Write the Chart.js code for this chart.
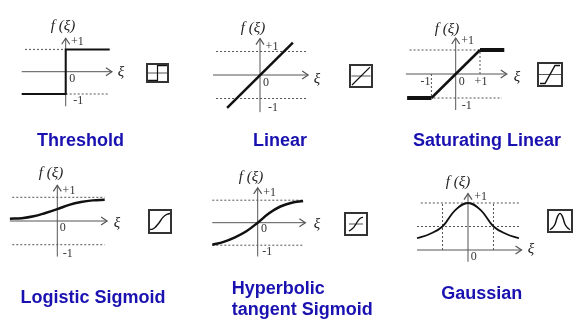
<!DOCTYPE html>
<html>
<head>
<meta charset="utf-8">
<title>Activation functions</title>
<script src="https://cdn.jsdelivr.net/npm/chart.js@4/dist/chart.umd.min.js"></script>
<style>
    html, body { margin: 0; padding: 0; background: #fff; }
    #page { position: relative; width: 579px; height: 324px; overflow: hidden; }
    canvas { position: absolute; }
    canvas.icon { outline: 2px solid #333; outline-offset: -2px; }
</style>
</head>
<body>
<div id="page"></div>
<script>
// values
const thresholdX = [-2, 0, 0, 2];
const thresholdY = [-1, -1, 1, 1];
const linearX = [-1.4, 1.4];
const linearY = [-1.4, 1.38];
const saturatingX = [-2, -1, 1, 2];
const saturatingY = [-1, -1, 1, 1];
const logisticX = [-2, -1.5, -1, -0.5, 0, 0.5, 1, 1.5, 2];
const logisticY = [0.1, 0.12, 0.2, 0.34, 0.5, 0.68, 0.8, 0.87, 0.9];
const tanhX = [-2, -1.5, -1, -0.5, 0, 0.5, 1, 1.5, 2];
const tanhY = [-0.98, -0.85, -0.65, -0.38, 0, 0.42, 0.72, 0.89, 0.96];
const gaussianX = [-2, -1.5, -1, -0.5, 0, 0.5, 1, 1.5, 2];
const gaussianY = [0.25, 0.34, 0.5, 0.85, 1, 0.85, 0.5, 0.34, 0.25];

const titles = ['Threshold', 'Linear', 'Saturating Linear', 'Logistic Sigmoid', 'Hyperbolic', 'tangent Sigmoid', 'Gaussian'];
const yName = 'f (ξ)';
const xName = 'ξ';

const INK = '#111';
const AXIS = '#555';
const TITLE_COLOR = '#1a12b0';
const TICK_FONT = '12px "Liberation Serif"';
const NAME_FONT = 'italic 15px "Liberation Serif"';
const TITLE_FONT = 'bold 18px "Liberation Sans"';

const toPoints = (xs, ys) => xs.map((x, i) => ({ x: x, y: ys[i] }));

// one canvas per panel, the scale limits put the origin where the picture has it
const panels = [
    {
        box: [0, 0, 190, 160], origin: [65.7, 71.7], unit: [22, 22.3],
        xs: thresholdX, ys: thresholdY, width: 2,
        xAxis: [-2, 2.1], yAxis: [-1.55, 1.5],
        guides: [[-1.85, 1, 0, 1], [0, -1, 1.95, -1]],
        ticks: [['+1', 0, 1, 11.6, -8], ['0', 0, 0, 6.5, 7.5], ['-1', 0, -1, 12.5, 7]],
        yNameAt: [63, 26], xNameAt: [121, 72],
        titleLines: [[titles[0], 80.5, 140.7, 'center']]
    },
    {
        box: [190, 0, 190, 160], origin: [260, 75], unit: [23.5, 23.5],
        xs: linearX, ys: linearY, width: 2.5,
        xAxis: [-2, 2.05], yAxis: [-1.58, 1.55],
        guides: [[-1.87, 1, 2, 1], [-1.87, -1, 2, -1]],
        ticks: [['+1', 0, 1, 12, -4.5], ['0', 0, 0, 6, 7.7], ['-1', 0, -1, 13, 9.7]],
        yNameAt: [253, 28], xNameAt: [317, 79],
        titleLines: [[titles[1], 280, 141, 'center']]
    },
    {
        box: [380, 0, 199, 160], origin: [455.7, 74], unit: [24.3, 24],
        xs: saturatingX, ys: saturatingY, width: 2.5, thickEnds: 4,
        xAxis: [-2.05, 2.1], yAxis: [-1.5, 1.5],
        guides: [[-1.9, 1, 1.9, 1], [-1.9, -1, 1.9, -1], [1, 0, 1, 1], [-1, 0, -1, -1]],
        ticks: [['+1', 0, 1, 12, -9], ['-1', 0, -1, 11, 7.7], ['0', 0, 0, 6, 7.7], ['+1', 1, 0, 1, 7.7], ['-1', -1, 0, -6, 7.7]],
        yNameAt: [447, 29], xNameAt: [517, 77],
        titleLines: [[titles[2], 487, 141, 'center']]
    },
    {
        box: [0, 160, 190, 164], origin: [57.3, 221], unit: [23.7, 23.7],
        xs: logisticX, ys: logisticY, width: 2.5, smooth: true,
        xAxis: [-2, 2.1], yAxis: [-1.5, 1.5],
        guides: [[-1.9, 1, 2, 1], [-1.9, -1, 2, -1]],
        ticks: [['+1', 0, 1, 11.7, -6], ['0', 0, 0, 5.4, 7.3], ['-1', 0, -1, 10.4, 9]],
        yNameAt: [51, 173], xNameAt: [117, 223],
        titleLines: [[titles[3], 93, 297.7, 'center']]
    },
    {
        box: [190, 160, 190, 164], origin: [257.7, 222.7], unit: [22.7, 22.5],
        xs: tanhX, ys: tanhY, width: 2.5, smooth: true,
        xAxis: [-2, 2.1], yAxis: [-1.5, 1.55],
        guides: [[-2, 1, 2, 1], [-2, -1, 2, -1]],
        ticks: [['+1', 0, 1, 12, -7], ['0', 0, 0, 6.3, 6.6], ['-1', 0, -1, 9.6, 7]],
        yNameAt: [251, 177], xNameAt: [317, 224],
        titleLines: [[titles[4], 231.7, 289, 'left'], [titles[5], 231.7, 309.7, 'left']]
    },
    {
        box: [380, 160, 199, 164], origin: [468, 250], unit: [25.5, 47],
        xs: gaussianX, ys: gaussianY, width: 1.8, smooth: true,
        xAxis: [-2, 2.1], yAxis: [-0.25, 1.2],
        guides: [[-1.85, 1, 2, 1], [-2, 0.5, 2.05, 0.5], [-1, 0, -1, 1], [1, 0, 1, 1]],
        ticks: [['+1', 0, 1, 12.7, -6.5], ['0', 0, 0, 5.7, 7]],
        yNameAt: [458, 182], xNameAt: [531, 249],
        titleLines: [[titles[6], 481.7, 293.7, 'center']]
    }
];

const icons = [
    { box: [146, 63, 23, 20], xs: thresholdX, ys: thresholdY, xRange: [-2.44, 2.44], yRange: [-1.36, 1.36], width: 1.2, midLine: [-2.2, 2.2] },
    { box: [349, 64, 24, 24], xs: linearX, ys: linearY, xRange: [-1.87, 1.87], yRange: [-1.87, 1.87], width: 1.2, midLine: [-1.5, 1.5] },
    { box: [537, 62, 26, 25], xs: saturatingX, ys: saturatingY, xRange: [-2.6, 2.6], yRange: [-1.39, 1.39], width: 1.4, midLine: [-2.2, 2.2] },
    { box: [148, 209, 24, 25], xs: logisticX, ys: logisticY, xRange: [-2.4, 2.4], yRange: [-0.125, 1.125], width: 1.4, smooth: true },
    { box: [344, 212, 24, 24], xs: tanhX, ys: tanhY, xRange: [-3.43, 3.43], yRange: [-1.71, 1.71], width: 1.3, smooth: true, midLine: [-2, 2] },
    { box: [547, 209, 26, 24], xs: gaussianX, ys: gaussianY, xRange: [-2.6, 2.6], yRange: [0.1, 1.2], width: 1.4, smooth: true }
];

function addCanvas(box, className) {
    const canvas = document.createElement('canvas');
    canvas.width = box[2];
    canvas.height = box[3];
    canvas.style.left = box[0] + 'px';
    canvas.style.top = box[1] + 'px';
    if (className) canvas.className = className;
    document.getElementById('page').appendChild(canvas);
    return canvas;
}

function hiddenScales(xRange, yRange) {
    return {
        x: { type: 'linear', display: false, min: xRange[0], max: xRange[1] },
        y: { type: 'linear', display: false, min: yRange[0], max: yRange[1] }
    };
}

function baseOptions(xRange, yRange) {
    return {
        responsive: false,
        animation: false,
        layout: { padding: 0 },
        scales: hiddenScales(xRange, yRange),
        plugins: { legend: { display: false }, tooltip: { enabled: false }, title: { display: false } },
        elements: { point: { radius: 0 } }
    };
}

function curveDataset(item) {
    const dataset = {
        data: toPoints(item.xs, item.ys),
        showLine: true,
        borderColor: INK,
        borderWidth: item.width,
        tension: item.smooth ? 0.4 : 0,
        fill: false
    };
    if (item.thickEnds) {
        // flat ends of the saturating curve are heavier than the ramp
        dataset.segment = {
            borderWidth: ctx => (ctx.p0.parsed.y === ctx.p1.parsed.y ? item.thickEnds : item.width)
        };
    }
    return dataset;
}

function arrowHead(ctx, x, y, dirX, dirY) {
    const size = 6;
    ctx.beginPath();
    ctx.moveTo(x - dirX * size - dirY * 4, y - dirY * size - dirX * 4);
    ctx.lineTo(x, y);
    ctx.lineTo(x - dirX * size + dirY * 4, y - dirY * size + dirX * 4);
    ctx.stroke();
}

function panelDecor(panel) {
    return {
        id: 'panelDecor',
        beforeDatasetsDraw(chart) {
            const ctx = chart.ctx;
            const px = v => chart.scales.x.getPixelForValue(v);
            const py = v => chart.scales.y.getPixelForValue(v);
            ctx.save();
            ctx.strokeStyle = AXIS;
            ctx.lineWidth = 1;
            ctx.beginPath();
            ctx.moveTo(px(panel.xAxis[0]), py(0));
            ctx.lineTo(px(panel.xAxis[1]), py(0));
            ctx.moveTo(px(0), py(panel.yAxis[0]));
            ctx.lineTo(px(0), py(panel.yAxis[1]));
            ctx.stroke();
            ctx.lineWidth = 1.2;
            arrowHead(ctx, px(panel.xAxis[1]), py(0), 1, 0);
            arrowHead(ctx, px(0), py(panel.yAxis[1]), 0, -1);
            ctx.restore();
        },
        afterDatasetsDraw(chart) {
            const ctx = chart.ctx;
            const left = panel.box[0];
            const top = panel.box[1];
            ctx.save();
            ctx.textBaseline = 'middle';
            ctx.textAlign = 'center';
            ctx.fillStyle = '#333';
            ctx.font = TICK_FONT;
            panel.ticks.forEach(t => {
                ctx.fillText(t[0], chart.scales.x.getPixelForValue(t[1]) + t[3], chart.scales.y.getPixelForValue(t[2]) + t[4]);
            });
            ctx.fillStyle = '#222';
            ctx.font = NAME_FONT;
            ctx.fillText(yName, panel.yNameAt[0] - left, panel.yNameAt[1] - top);
            ctx.fillText(xName, panel.xNameAt[0] - left, panel.xNameAt[1] - top);
            ctx.fillStyle = TITLE_COLOR;
            ctx.font = TITLE_FONT;
            panel.titleLines.forEach(line => {
                ctx.textAlign = line[3];
                ctx.fillText(line[0], line[1] - left, line[2] - top);
            });
            ctx.restore();
        }
    };
}

function drawPanel(panel) {
    const box = panel.box;
    const xMin = (box[0] - panel.origin[0]) / panel.unit[0];
    const xMax = (box[0] + box[2] - panel.origin[0]) / panel.unit[0];
    const yMax = (panel.origin[1] - box[1]) / panel.unit[1];
    const yMin = (panel.origin[1] - box[1] - box[3]) / panel.unit[1];

    const guideSets = panel.guides.map(g => ({
        data: [{ x: g[0], y: g[1] }, { x: g[2], y: g[3] }],
        showLine: true,
        borderColor: AXIS,
        borderWidth: 1,
        borderDash: [2, 2],
        fill: false
    }));

    // first dataset is painted last, so the curve goes first to sit on the guides
    new Chart(addCanvas(box), {
        type: 'scatter',
        data: { datasets: [curveDataset(panel)].concat(guideSets) },
        options: baseOptions([xMin, xMax], [yMin, yMax]),
        plugins: [panelDecor(panel)]
    });
}

function drawIcon(icon) {
    const datasets = [curveDataset(icon)];
    if (icon.midLine) {
        datasets.push({
            data: [{ x: icon.midLine[0], y: 0 }, { x: icon.midLine[1], y: 0 }],
            showLine: true,
            borderColor: AXIS,
            borderWidth: 1,
            fill: false
        });
    }
    new Chart(addCanvas(icon.box, 'icon'), {
        type: 'scatter',
        data: { datasets: datasets },
        options: baseOptions(icon.xRange, icon.yRange)
    });
}

panels.forEach(drawPanel);
icons.forEach(drawIcon);
</script>
</body>
</html>
